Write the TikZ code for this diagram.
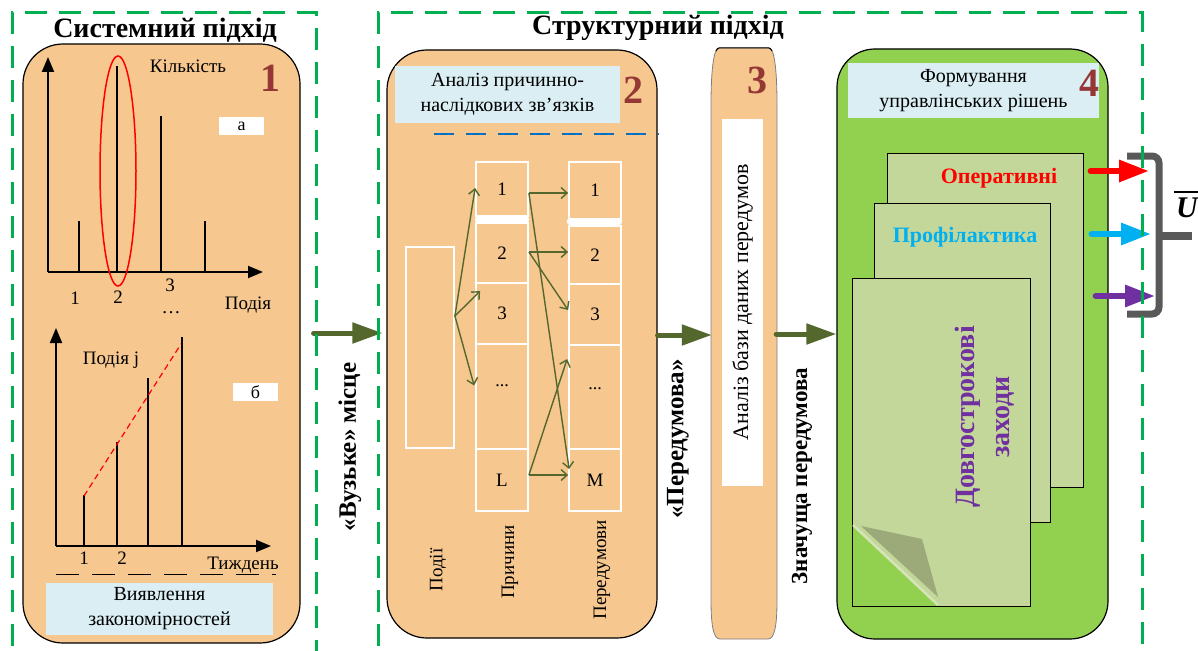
\documentclass[tikz,border=0pt]{standalone}
\usepackage{fontspec}
\setmainfont{Liberation Serif}
\usetikzlibrary{arrows.meta,calc}

\definecolor{dashgreen}{RGB}{0,176,80}
\definecolor{panelorange}{RGB}{246,199,143}
\definecolor{panelgreen}{RGB}{146,208,80}
\definecolor{paleblue}{RGB}{218,238,243}
\definecolor{numred}{RGB}{149,55,53}
\definecolor{arrowolive}{RGB}{84,104,46}
\definecolor{paper}{RGB}{196,215,155}
\definecolor{curlshade}{RGB}{155,170,120}
\definecolor{curledge}{RGB}{215,228,185}
\definecolor{opred}{RGB}{255,0,0}
\definecolor{prcyan}{RGB}{0,176,240}
\definecolor{ltpurple}{RGB}{112,48,160}
\definecolor{bracegray}{RGB}{89,89,89}
\definecolor{linkblue}{RGB}{0,112,192}

\newcommand{\fsz}[2]{\fontsize{#1}{#2}\selectfont}

\tikzset{
  dashbox/.style={draw=dashgreen, line width=3pt, dash pattern=on 22pt off 12pt},
  panel/.style={draw=black, line width=1.2pt, rounded corners=40pt, inner sep=0},
  notebox/.style={fill=paleblue, inner sep=0, align=center, font=\fsz{20}{25}},
  bignum/.style={text=numred, font=\fsz{40}{40}\bfseries, inner sep=0},
  headline/.style={font=\fsz{28}{30}\bfseries, inner sep=0},
  txt/.style={font=\fsz{19}{22}, inner sep=0},
  tagbox/.style={fill=white, minimum width=45pt, minimum height=18pt, inner sep=0, font=\fsz{18}{18}},
  chartaxis/.style={line width=2pt, -{Triangle[length=15pt,width=12pt]}},
  spike/.style={line width=1.5pt},
  cellbox/.style={draw=white, line width=1.8pt, minimum width=52pt, inner sep=0, font=\fsz{19}{19}},
  link/.style={draw=arrowolive, line width=1.4pt, -{Straight Barb[length=6pt,width=11pt]}},
  fatarrow/.style={draw=arrowolive, line width=5pt, line cap=round, -{Triangle[length=30pt,width=20pt]}},
  outarrow/.style={line width=6pt, line cap=round, -{Triangle[length=30pt,width=21pt]}},
  vlabel/.style={rotate=90, font=\fsz{25}{28}\bfseries, inner sep=0},
  sheet/.style={draw=black, line width=1pt, fill=paper},
}

\begin{document}
\begin{tikzpicture}[x=1pt,y=-1pt]
\useasboundingbox (0,0) rectangle (1198,650);
\fill[white] (0,0) rectangle (1198,650);
\clip (0,0) rectangle (1198,650);

% ---- headings ----
\node[headline] (t1) at (165,30) {Системний підхід};
\node[headline] (t2) at (658,28) {Структурний підхід};

% ---- panels ----
\node[panel, fill=panelorange, minimum width=277pt, minimum height=599pt] (pan1) at (161.5,343.5) {};
\node[panel, fill=panelorange, minimum width=270pt, minimum height=588pt] (pan2) at (522,344) {};
\node[panel, fill=panelgreen, rounded corners=38pt, minimum width=271pt, minimum height=590pt] (pan4) at (972.5,344) {};
% narrow column with tall rounded ends
\fill[panelorange] (719,48) -- (769,48) .. controls (775,48) and (777,75) .. (777,105) -- (777,600)
  .. controls (777,628) and (774,639) .. (768,639) -- (720,639) .. controls (714,639) and (711,628) .. (711,600)
  -- (711,105) .. controls (711,75) and (713,48) .. (719,48) -- cycle;
\draw[gray, line width=0.8pt] (719,48) -- (769,48) .. controls (775,48) and (777,75) .. (777,105) -- (777,600)
  .. controls (777,628) and (774,639) .. (768,639) -- (720,639) .. controls (714,639) and (711,628) .. (711,600)
  -- (711,105) .. controls (711,75) and (713,48) .. (719,48) -- cycle;
\draw[black, line width=1pt] (716,51) .. controls (717,49) and (718,48) .. (719,48) -- (769,48) .. controls (770,48) and (771,49) .. (772,51);
\node[inner sep=0, minimum width=66pt, minimum height=591pt] (pan3) at (744,343.5) {};

% ---- panel 1: charts ----
\node[bignum] (n1) at (270,78) {1};
\coordinate (a0) at (48,272);
\draw[chartaxis] (a0) -- (48,57);
\draw[chartaxis] (a0) -- (263,272);
\draw[spike] (79,272) -- (79,221);
\draw[spike] (117,272) -- (117,66);
\draw[spike] (161,272) -- (161,116);
\draw[spike] (205,272) -- (205,221);
\draw[opred, line width=1.5pt] (118,171) ellipse [x radius=18pt, y radius=115pt];
\node[txt] (qty) at (188,66) {Кількість};
\node[txt] (ea1) at (75,298) {1};
\node[txt] (ea2) at (118,297) {2};
\node[txt] (ea3) at (170,285) {3};
\node[txt] (ead) at (171,313) {\ldots};
\node[txt] (ev) at (248,305) {Подія};
\node[tagbox] (tga) at (241.5,126) {а};

\coordinate (b0) at (56,546);
\draw[chartaxis] (b0) -- (56,328);
\draw[chartaxis] (b0) -- (271,546);
\draw[spike] (84,546) -- (84,495);
\draw[spike] (117,546) -- (117,442);
\draw[spike] (148,546) -- (148,378);
\draw[spike] (182,546) -- (182,337);
\draw[opred, line width=1.2pt, dash pattern=on 6pt off 4pt] (84,496) -- (181,344);
\node[txt] (evj) at (111,360) {Подія j};
\node[tagbox] (tgb) at (255.5,392) {б};
\node[txt] (wk1) at (84,558) {1};
\node[txt] (wk2) at (122,558) {2};
\node[txt] (wk) at (243,565) {Тиждень};
\draw[line width=1pt, dash pattern=on 23pt off 13pt] (56,574) -- (276,574);
\node[notebox, minimum width=227pt, minimum height=52pt] (pattern) at (159.5,609) {Виявлення\\закономірностей};

% ---- panel 1 -> panel 2 ----
\draw[fatarrow] ($(pan1.east)+(13,-10.5)$) -- ($(pan2.west)+(-4,-11)$);
\node[vlabel] (narrow) at (350,447) {«Вузьке» місце};

% ---- panel 2: cause and effect ----
\node[notebox, minimum width=225pt, minimum height=57pt] (cause) at (507.5,94.5) {Аналіз причинно-\\наслідкових зв’язків};
\node[bignum] (n2) at (633,90) {2};
\draw[linkblue, line width=1.5pt, dash pattern=on 20pt off 12pt] (434,134) -- (659,134);

\node[cellbox, minimum width=48pt, minimum height=201pt] (podii) at (430,347.5) {};

\node[cellbox, minimum height=54pt] (r1) at (502,189) {1};
\node[cellbox, minimum height=60pt] (r2) at (502,253) {2};
\node[cellbox, minimum height=61pt] (r3) at (502,313.5) {3};
\node[cellbox, minimum height=105pt] (rd) at (502,396.5) {};
\node[cellbox, minimum height=62pt] (rL) at (502,480) {L};
\node[txt, font=\fsz{18}{18}] (rdt) at (502,386) {...};
\fill[white, rounded corners=3pt] (475,216) rectangle (529,223);

\node[cellbox, minimum height=57pt] (p1) at (595,190.5) {1};
\node[cellbox, minimum height=58pt] (p2) at (595,255) {2};
\node[cellbox, minimum height=61pt] (p3) at (595,314.5) {3};
\node[cellbox, minimum height=104pt] (pd) at (595,397) {};
\node[cellbox, minimum height=62pt] (pM) at (595,480) {M};
\node[txt, font=\fsz{18}{18}] (pdt) at (595,389) {...};
\fill[white, rounded corners=3pt] (567,218) rectangle (622,225);

\coordinate (fan) at ($(podii.east)+(0,-31.5)$);
\draw[link] (fan) -- ($(r1.west)+(0,-1)$);
\draw[link] (fan) -- ($(r3.north west)+(5,9)$);
\draw[link] (fan) -- ($(rd.west)+(-1,-11)$);
\draw[link] ($(r1.east)+(0,4)$) -- ($(p1.west)+(0,2.5)$);
\draw[link] ($(r1.east)+(0,4)$) -- ($(pM.west)+(1,-11)$);
\draw[link] ($(r2.east)+(0,-1)$) -- ($(p2.west)+(0,-3)$);
\draw[link] ($(r2.east)+(0,-1)$) -- ($(p3.west)+(0,-4.5)$);
\draw[link] ($(rL.east)+(0,-5)$) -- ($(pM.west)+(0,-5)$);
\draw[link] ($(rL.east)+(0,-5)$) -- ($(pd.north west)+(-1,15)$);

\node[txt, rotate=90] (lpod) at (438,570) {Події};
\node[txt, rotate=90] (lpr) at (510,562) {Причини};
\node[txt, rotate=90] (lpe) at (602,570) {Передумови};

% ---- panel 2 -> panel 3 ----
\draw[fatarrow] ($(pan2.east)+(0,-9)$) -- ($(pan3.west)+(1,-8.5)$);
\node[vlabel] (premise) at (678,439) {«Передумова»};

% ---- panel 3 ----
\node[bignum] (n3) at (757,80) {3};
\node[fill=white, rotate=90, inner sep=0, minimum width=367pt, minimum height=41pt, font=\fsz{22}{24}] (dbbox) at (742.5,302.5) {Аналіз бази даних передумов};

% ---- panel 3 -> panel 4 ----
\draw[fatarrow] ($(pan3.east)+(-1,-9.5)$) -- ($(pan4.west)+(0,-10)$);
\node[vlabel, font=\fsz{23}{25}\bfseries] (sig) at (802,476) {Значуща передумова};

% ---- panel 4: decisions ----
\node[notebox, minimum width=251pt, minimum height=55pt] (decide) at (973.5,90.5) {Формування\\управлінських рішень};
\node[bignum] (n4) at (1089,83) {4};

\draw[sheet] (887,153) rectangle (1083,487);
\draw[sheet] (874,203) rectangle (1050,522);
\fill[paper] (852,278) -- (1030,278) -- (1030,606) -- (939,606) -- (852,524) -- cycle;
\draw[black, line width=1pt] (852,278) rectangle (1030,606);
\fill[curlshade] (861,526) -- (922,539) -- (938,597) -- cycle;
\draw[curledge, line width=2.5pt] (853,525) -- (938,605);

\node[font=\fsz{22}{24}\bfseries, text=opred, inner sep=0] (oper) at (999,178) {Оперативні};
\node[font=\fsz{22}{24}\bfseries, text=prcyan, inner sep=0] (prof) at (965,237) {Профілактика};
\node[font=\fsz{28}{35}\bfseries, text=ltpurple, rotate=90, align=center, inner sep=0] (longterm) at (984.5,417) {Довгострокові\\заходи};

% ---- outputs gathered into U ----
\coordinate (uin1) at (1149,171);
\coordinate (uin2) at (1151,234);
\coordinate (uin3) at (1155,296);
\draw[outarrow, opred] ($(pan4.east)+(-18,-173)$) -- (uin1);
\draw[outarrow, prcyan] ($(pan4.east)+(-17,-110)$) -- (uin2);
\draw[outarrow, ltpurple] ($(pan4.east)+(-13,-48)$) -- (uin3);

\draw[bracegray, line width=7pt, rounded corners=7pt] (1127,156) -- (1159,156) -- (1159,314) -- (1127,314);
\draw[bracegray, line width=8pt] (1159,236) -- (1192,236);
\node[font=\fsz{30}{30}\bfseries\itshape, inner sep=0] (ubar) at (1187,208) {U};
\draw[line width=2.5pt] ($(ubar.north west)+(-2,-6)$) -- ($(ubar.north east)+(6,-6)$);

% ---- dashed framing regions ----
\draw[dashbox] (12,680) -- (12,13) -- (316,13) -- (316,680);
\draw[dashbox] (378,680) -- (378,13) -- (1142,13) -- (1142,680);
\end{tikzpicture}
\end{document}
